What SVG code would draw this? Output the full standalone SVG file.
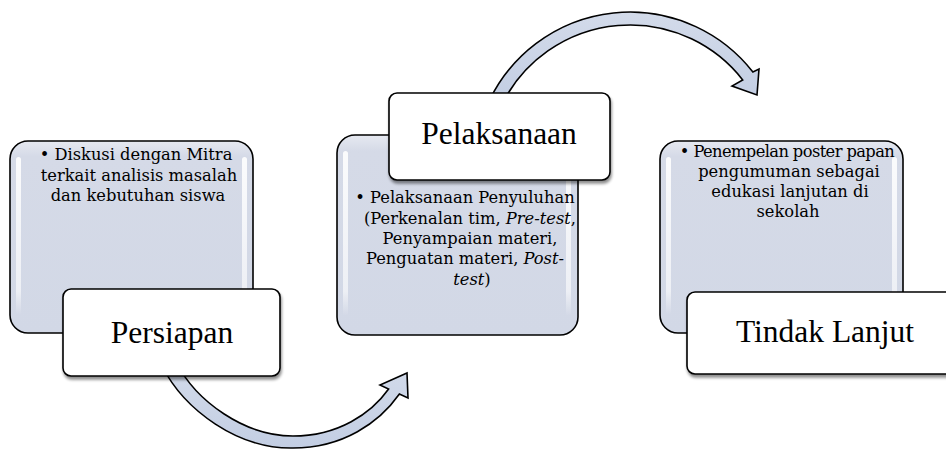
<svg xmlns="http://www.w3.org/2000/svg" width="946" height="449" viewBox="0 0 946 449">
<defs>
<style>
.big{fill:url(#bodyGrad);stroke:#000;stroke-width:1.6}
.hl{fill:url(#hlGrad)}
.lbl{fill:#fff;stroke:#000;stroke-width:1.6;filter:url(#shadow)}
.arrow{fill:url(#arrowGrad);stroke:#000;stroke-width:1.6;stroke-linejoin:miter}
.body{font-family:"DejaVu Serif","Liberation Serif",serif;font-size:16.3px;fill:#000;text-anchor:middle}
.title{font-family:"Liberation Serif","DejaVu Serif",serif;font-size:31.5px;fill:#000;text-anchor:middle}
.it{font-style:italic}
.tight{letter-spacing:-0.6px}
</style>
<linearGradient id="bodyGrad" x1="0" y1="0" x2="0" y2="1">
<stop offset="0" stop-color="#e6e9f1"/>
<stop offset="0.08" stop-color="#d5dae7"/>
<stop offset="1" stop-color="#d2d8e6"/>
</linearGradient>
<linearGradient id="hlGrad" x1="0" y1="0" x2="0" y2="1">
<stop offset="0" stop-color="#fff" stop-opacity="0.9"/>
<stop offset="0.85" stop-color="#fff" stop-opacity="0.6"/>
<stop offset="1" stop-color="#fff" stop-opacity="0"/>
</linearGradient>
<linearGradient id="arrowGrad" x1="0" y1="0" x2="0" y2="1">
<stop offset="0" stop-color="#d3dbea"/>
<stop offset="1" stop-color="#c3cee3"/>
</linearGradient>
<filter id="shadow" x="-10%" y="-10%" width="120%" height="130%">
<feGaussianBlur in="SourceAlpha" stdDeviation="1.5"/>
<feOffset dx="1" dy="3" result="b"/>
<feComponentTransfer><feFuncA type="linear" slope="0.45"/></feComponentTransfer>
<feMerge><feMergeNode/><feMergeNode in="SourceGraphic"/></feMerge>
</filter>
</defs>

<g id="connectors">
<path class="arrow" d="M 162,366 C 184.7,410.5 238,449 293,448 C 343,448 379.3,422.6 399.4,394 L 408,398 L 407,373 L 380,385 L 388.6,389 C 371.3,413.5 338,436 293,436 C 245,436 196.4,402 176,362 Z"/>
<path class="arrow" d="M 489.6,100 A 156 156 0 0 1 752.9,72 L 759,69 L 757,95 L 732,86 L 742.7,79.9 A 143 143 0 0 0 504.2,100 Z"/>
</g>

<g id="node-persiapan">
<rect class="big" x="10" y="141" width="243" height="192" rx="18"/>
<rect class="hl" x="16" y="157" width="5" height="158" rx="2.5"/>
<rect class="hl" x="242" y="157" width="5" height="158" rx="2.5"/>
<text class="body" x="136" y="160">• Diskusi dengan Mitra</text>
<text class="body" x="139" y="180.5">terkait analisis masalah</text>
<text class="body" x="138" y="201">dan kebutuhan siswa</text>
<rect class="lbl" x="63" y="289" width="217" height="87" rx="8"/>
<text class="title" x="172" y="343">Persiapan</text>
</g>

<g id="node-pelaksanaan">
<rect class="big" x="337" y="135" width="241" height="200" rx="18"/>
<rect class="hl" x="343" y="151" width="5" height="165" rx="2.5"/>
<rect class="hl" x="566" y="151" width="5" height="165" rx="2.5"/>
<rect class="lbl" x="389" y="93" width="221" height="87" rx="8"/>
<text class="title" x="499" y="144">Pelaksanaan</text>
<text class="body" x="465" y="203">• Pelaksanaan Penyuluhan</text>
<text class="body" x="470" y="223.5">(Perkenalan tim, <tspan class="it">Pre-test</tspan>,</text>
<text class="body" x="470" y="244">Penyampaian materi,</text>
<text class="body" x="465" y="264">Penguatan materi, <tspan class="it">Post-</tspan></text>
<text class="body" x="472" y="284.5"><tspan class="it">test</tspan>)</text>
</g>

<g id="node-tindak-lanjut">
<rect class="big" x="660" y="141" width="243" height="192" rx="18"/>
<rect class="hl" x="666" y="157" width="5" height="158" rx="2.5"/>
<rect class="hl" x="892" y="157" width="5" height="158" rx="2.5"/>
<text class="body tight" x="787" y="157">• Penempelan poster papan</text>
<text class="body" x="789" y="177">pengumuman  sebagai</text>
<text class="body" x="790" y="197">edukasi lanjutan di</text>
<text class="body" x="788" y="217">sekolah</text>
<rect class="lbl" x="687" y="292" width="276" height="82" rx="8"/>
<text class="title" x="825" y="342">Tindak Lanjut</text>
</g>
</svg>
